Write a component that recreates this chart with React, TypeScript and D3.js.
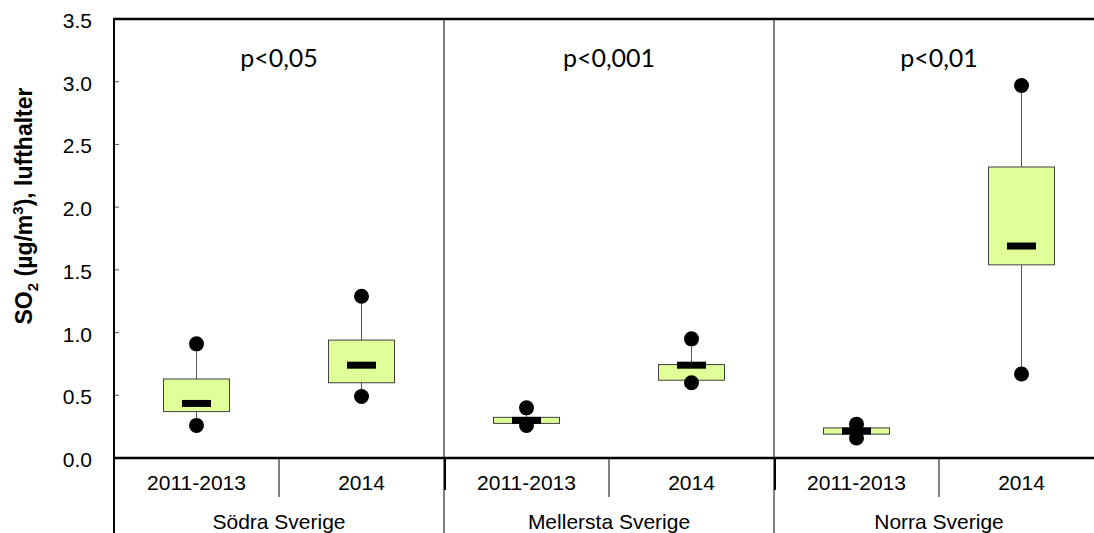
import React from "react";
import * as d3 from "d3";

const regions = ["Södra Sverige", "Mellersta Sverige", "Norra Sverige"];
const periods = ["2011-2013", "2014"];
const pLabels = ["p<0,05", "p<0,001", "p<0,01"];
// per box, order: Södra 2011-2013, Södra 2014, Mellersta..., Norra...
const whiskerLow = [0.26, 0.49, 0.26, 0.6, 0.16, 0.67];
const q1 = [0.37, 0.6, 0.276, 0.62, 0.19, 1.54];
const median = [0.435, 0.74, 0.3, 0.74, 0.215, 1.69];
const q3 = [0.63, 0.94, 0.324, 0.745, 0.24, 2.32];
const whiskerHigh = [0.91, 1.29, 0.4, 0.95, 0.27, 2.97];
const yTicks = [0, 0.5, 1.0, 1.5, 2.0, 2.5, 3.0, 3.5];

export default function App() {
  const W = 1094, H = 533;
  const left = 114, top = 19, bottom = 458, right = 1104;
  const y = d3.scaleLinear().domain([0, 3.5]).range([bottom, top]);
  const keys = regions.flatMap((r) => periods.map((p) => r + "|" + p));
  const x = d3.scaleBand().domain(keys).range([left, right]);
  const gx = d3.scaleBand().domain(regions).range([left, right]);
  const bw = 66;
  const mw = 29;
  const r = 7.5;
  const font = "Liberation Sans, Arial, sans-serif";

  return (
    <svg width={W} height={H} style={{ position: "absolute", left: 0, top: 0 }}>
      <rect x={0} y={0} width={W} height={H} fill="#fff" />
      {/* group separators */}
      {regions.slice(1).map((g) => (
        <g key={g}>
          <line x1={gx(g)!} x2={gx(g)!} y1={top} y2={H} stroke="#000" strokeWidth={1} />
          <line x1={gx(g)! + 1} x2={gx(g)! + 1} y1={bottom} y2={490} stroke="#000" strokeWidth={2} />
        </g>
      ))}
      {/* sub separators */}
      {regions.map((g) => (
        <line key={g} x1={x(g + "|" + periods[1])!} x2={x(g + "|" + periods[1])!} y1={bottom} y2={497} stroke="#000" strokeWidth={1} />
      ))}
      {/* y ticks */}
      {yTicks.map((t) => (
        <g key={t}>
          <line x1={left} x2={left + 5} y1={y(t)} y2={y(t)} stroke="#555" strokeWidth={1} />
          <text x={92} y={y(t) + 9} textAnchor="end" fontFamily={font} fontSize={21} fill="#000">
            {d3.format(".1f")(t)}
          </text>
        </g>
      ))}
      {/* boxes */}
      {keys.map((k, i) => {
        const cx = x(k)! + x.bandwidth() / 2;
        return (
          <g key={k}>
            <line x1={cx} x2={cx} y1={y(whiskerHigh[i])} y2={y(q3[i])} stroke="#555" strokeWidth={1} />
            <line x1={cx} x2={cx} y1={y(q1[i])} y2={y(whiskerLow[i])} stroke="#555" strokeWidth={1} />
            <rect x={cx - bw / 2} y={y(q3[i])} width={bw} height={y(q1[i]) - y(q3[i])} fill="#e0ff99" stroke="#404040" strokeWidth={1} />
            <rect x={cx - mw / 2} y={y(median[i]) - 3.5} width={mw} height={7} fill="#000" />
            <circle cx={cx} cy={y(whiskerHigh[i])} r={r} fill="#000" />
            <circle cx={cx} cy={y(whiskerLow[i])} r={r} fill="#000" />
          </g>
        );
      })}
      {/* axes */}
      <line x1={left} x2={W} y1={top} y2={top} stroke="#000" strokeWidth={2.5} />
      <line x1={left} x2={W} y1={bottom} y2={bottom} stroke="#000" strokeWidth={2.5} />
      <line x1={left} x2={left} y1={top - 1} y2={H} stroke="#000" strokeWidth={2} />
      {/* p labels */}
      {regions.map((g, i) => (
        <text key={g} x={gx(g)! + gx.bandwidth() / 2} y={67} textAnchor="middle" fontFamily="Lato, sans-serif" fontSize={25} fill="#000">
          {pLabels[i]}
        </text>
      ))}
      {/* x labels */}
      {keys.map((k) => (
        <text key={k} x={x(k)! + x.bandwidth() / 2} y={490} textAnchor="middle" fontFamily={font} fontSize={21} fill="#000">
          {k.split("|")[1]}
        </text>
      ))}
      {regions.map((g) => (
        <text key={g} x={gx(g)! + gx.bandwidth() / 2} y={529} textAnchor="middle" fontFamily={font} fontSize={21} fill="#000">
          {g}
        </text>
      ))}
      {/* y title */}
      <text transform="translate(32,206) rotate(-90)" textAnchor="middle" fontFamily={font} fontSize={23} fontWeight="bold" fill="#000">
        SO<tspan fontSize={15} dy={6}>2</tspan>
        <tspan dy={-6}> (µg/m</tspan>
        <tspan fontSize={15} dy={-9}>3</tspan>
        <tspan dy={9}>), lufthalter</tspan>
      </text>
    </svg>
  );
}
